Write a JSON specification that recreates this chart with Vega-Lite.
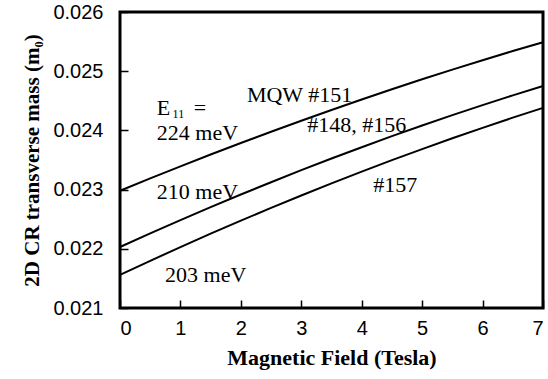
{
  "$schema": "https://vega.github.io/schema/vega-lite/v6.json",
  "width": 423,
  "height": 296,
  "autosize": {"type": "none"},
  "padding": {"left": 120, "top": 12, "right": 5, "bottom": 71},
  "background": "white",
  "config": {
    "view": {"stroke": "black", "strokeWidth": 3}
  },
  "datasets": {
    "curves": [
      {"B": 0, "m": 0.02298, "s": "151"}, {"B": 0.5, "m": 0.023189, "s": "151"}, {"B": 1, "m": 0.023393, "s": "151"}, {"B": 1.5, "m": 0.023592, "s": "151"}, {"B": 2, "m": 0.023787, "s": "151"}, {"B": 2.5, "m": 0.023977, "s": "151"}, {"B": 3, "m": 0.024164, "s": "151"}, {"B": 3.5, "m": 0.024345, "s": "151"}, {"B": 4, "m": 0.024522, "s": "151"}, {"B": 4.5, "m": 0.024695, "s": "151"}, {"B": 5, "m": 0.024863, "s": "151"}, {"B": 5.5, "m": 0.025026, "s": "151"}, {"B": 6, "m": 0.025186, "s": "151"}, {"B": 6.5, "m": 0.02534, "s": "151"}, {"B": 7, "m": 0.02549, "s": "151"},
      {"B": 0, "m": 0.02203, "s": "148"}, {"B": 0.5, "m": 0.02226, "s": "148"}, {"B": 1, "m": 0.022485, "s": "148"}, {"B": 1.5, "m": 0.022704, "s": "148"}, {"B": 2, "m": 0.022917, "s": "148"}, {"B": 2.5, "m": 0.023125, "s": "148"}, {"B": 3, "m": 0.023328, "s": "148"}, {"B": 3.5, "m": 0.023525, "s": "148"}, {"B": 4, "m": 0.023716, "s": "148"}, {"B": 4.5, "m": 0.023903, "s": "148"}, {"B": 5, "m": 0.024083, "s": "148"}, {"B": 5.5, "m": 0.024258, "s": "148"}, {"B": 6, "m": 0.024427, "s": "148"}, {"B": 6.5, "m": 0.024592, "s": "148"}, {"B": 7, "m": 0.02475, "s": "148"},
      {"B": 0, "m": 0.02156, "s": "157"}, {"B": 0.5, "m": 0.021797, "s": "157"}, {"B": 1, "m": 0.022029, "s": "157"}, {"B": 1.5, "m": 0.022255, "s": "157"}, {"B": 2, "m": 0.022476, "s": "157"}, {"B": 2.5, "m": 0.022691, "s": "157"}, {"B": 3, "m": 0.022901, "s": "157"}, {"B": 3.5, "m": 0.023105, "s": "157"}, {"B": 4, "m": 0.023304, "s": "157"}, {"B": 4.5, "m": 0.023497, "s": "157"}, {"B": 5, "m": 0.023684, "s": "157"}, {"B": 5.5, "m": 0.023867, "s": "157"}, {"B": 6, "m": 0.024043, "s": "157"}, {"B": 6.5, "m": 0.024215, "s": "157"}, {"B": 7, "m": 0.02438, "s": "157"}
    ],
    "labels": [
      {"t": "MQW #151", "x": 2.1, "y": 0.0246},
      {"t": "E", "x": 0.61, "y": 0.024378},
      {"t": "=", "x": 1.22, "y": 0.024378},
      {"t": "224 meV", "x": 0.61, "y": 0.023956},
      {"t": "210 meV", "x": 0.61, "y": 0.022959},
      {"t": "203 meV", "x": 0.745, "y": 0.021557},
      {"t": "#148, #156", "x": 3.1, "y": 0.024091},
      {"t": "#157", "x": 4.19, "y": 0.023078}
    ],
    "subs": [
      {"t": "11", "x": 0.87, "y": 0.02427}
    ]
  },
  "layer": [
    {
      "data": {"name": "curves"},
      "mark": {"type": "line", "color": "black", "strokeWidth": 2},
      "encoding": {
        "x": {"field": "B", "type": "quantitative", "scale": {"domain": [0, 7], "nice": false, "zero": false},
              "axis": {"tickCount": 7, "grid": false, "ticks": true, "tickSize": -8, "tickWidth": 1.5, "tickColor": "black", "domainColor": "black",
                       "labelPadding": 18, "labelFont": "Liberation Sans", "labelFontSize": 20, "labelColor": "black",
                       "title": "Magnetic Field (Tesla)", "titleFont": "Liberation Serif", "titleFontSize": 22, "titleFontWeight": "bold", "titleColor": "black", "titlePadding": 9}},
        "y": {"field": "m", "type": "quantitative", "scale": {"domain": [0.021, 0.026], "nice": false, "zero": false},
              "axis": {"tickCount": 5, "format": ".3f", "grid": false, "ticks": true, "tickSize": -8, "tickWidth": 1.5, "tickColor": "black", "domainColor": "black",
                       "labelPadding": 25, "labelFont": "Liberation Sans", "labelFontSize": 20, "labelColor": "black",
                       "title": "2D CR transverse mass (m₀)", "titleFont": "Liberation Serif", "titleFontSize": 21, "titleFontWeight": "bold", "titleColor": "black", "titlePadding": 10}},
        "detail": {"field": "s", "type": "nominal"}
      }
    },
    {
      "data": {"name": "labels"},
      "mark": {"type": "text", "align": "left", "baseline": "middle", "font": "Liberation Serif", "fontSize": 22, "color": "black"},
      "encoding": {
        "x": {"field": "x", "type": "quantitative"},
        "y": {"field": "y", "type": "quantitative"},
        "text": {"field": "t"}
      }
    },
    {
      "data": {"name": "subs"},
      "mark": {"type": "text", "align": "left", "baseline": "middle", "font": "Liberation Serif", "fontSize": 12, "color": "black"},
      "encoding": {
        "x": {"field": "x", "type": "quantitative"},
        "y": {"field": "y", "type": "quantitative"},
        "text": {"field": "t"}
      }
    }
  ]
}
